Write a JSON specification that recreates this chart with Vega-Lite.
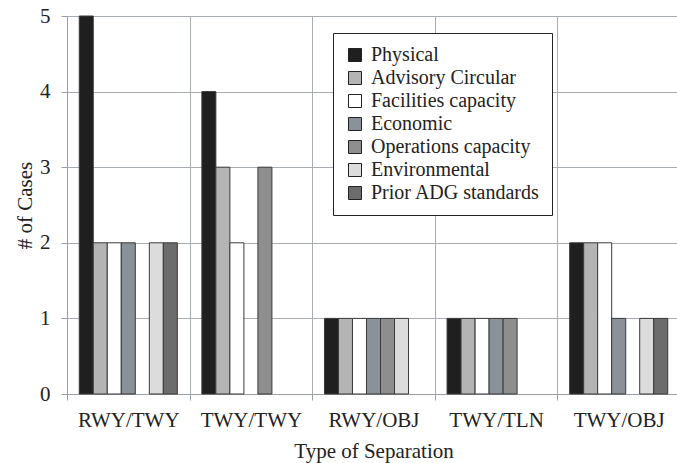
{
  "$schema": "https://vega.github.io/schema/vega-lite/v6.json",
  "autosize": {"type": "none"},
  "padding": {"left": 67, "top": 16, "right": 0, "bottom": 69},
  "width": 613,
  "height": 378,
  "background": "white",
  "config": {
    "font": "Liberation Serif",
    "view": {"stroke": null},
    "axis": {"labelFont": "Liberation Serif", "titleFont": "Liberation Serif", "labelColor": "#222", "titleColor": "#222", "titleFontWeight": "normal", "labelFontSize": 21, "titleFontSize": 21, "domainColor": "#9a9ea6", "tickColor": "#9a9ea6", "gridColor": "#a9adb4"}
  },
  "data": {
    "values": [
      {"sep": "RWY/TWY", "reason": "Physical", "n": 5},
      {"sep": "RWY/TWY", "reason": "Advisory Circular", "n": 2},
      {"sep": "RWY/TWY", "reason": "Facilities capacity", "n": 2},
      {"sep": "RWY/TWY", "reason": "Economic", "n": 2},
      {"sep": "RWY/TWY", "reason": "Operations capacity", "n": 0},
      {"sep": "RWY/TWY", "reason": "Environmental", "n": 2},
      {"sep": "RWY/TWY", "reason": "Prior ADG standards", "n": 2},
      {"sep": "TWY/TWY", "reason": "Physical", "n": 4},
      {"sep": "TWY/TWY", "reason": "Advisory Circular", "n": 3},
      {"sep": "TWY/TWY", "reason": "Facilities capacity", "n": 2},
      {"sep": "TWY/TWY", "reason": "Economic", "n": 0},
      {"sep": "TWY/TWY", "reason": "Operations capacity", "n": 3},
      {"sep": "TWY/TWY", "reason": "Environmental", "n": 0},
      {"sep": "TWY/TWY", "reason": "Prior ADG standards", "n": 0},
      {"sep": "RWY/OBJ", "reason": "Physical", "n": 1},
      {"sep": "RWY/OBJ", "reason": "Advisory Circular", "n": 1},
      {"sep": "RWY/OBJ", "reason": "Facilities capacity", "n": 1},
      {"sep": "RWY/OBJ", "reason": "Economic", "n": 1},
      {"sep": "RWY/OBJ", "reason": "Operations capacity", "n": 1},
      {"sep": "RWY/OBJ", "reason": "Environmental", "n": 1},
      {"sep": "RWY/OBJ", "reason": "Prior ADG standards", "n": 0},
      {"sep": "TWY/TLN", "reason": "Physical", "n": 1},
      {"sep": "TWY/TLN", "reason": "Advisory Circular", "n": 1},
      {"sep": "TWY/TLN", "reason": "Facilities capacity", "n": 1},
      {"sep": "TWY/TLN", "reason": "Economic", "n": 1},
      {"sep": "TWY/TLN", "reason": "Operations capacity", "n": 1},
      {"sep": "TWY/TLN", "reason": "Environmental", "n": 0},
      {"sep": "TWY/TLN", "reason": "Prior ADG standards", "n": 0},
      {"sep": "TWY/OBJ", "reason": "Physical", "n": 2},
      {"sep": "TWY/OBJ", "reason": "Advisory Circular", "n": 2},
      {"sep": "TWY/OBJ", "reason": "Facilities capacity", "n": 2},
      {"sep": "TWY/OBJ", "reason": "Economic", "n": 1},
      {"sep": "TWY/OBJ", "reason": "Operations capacity", "n": 0},
      {"sep": "TWY/OBJ", "reason": "Environmental", "n": 1},
      {"sep": "TWY/OBJ", "reason": "Prior ADG standards", "n": 1}
    ]
  },
  "transform": [{"filter": "datum.n > 0"}],
  "mark": {"type": "bar", "stroke": "#3a3a3a", "strokeWidth": 1, "opacity": 1},
  "encoding": {
    "x": {
      "field": "sep", "type": "nominal", "sort": null,
      "scale": {"domain": ["RWY/TWY", "TWY/TWY", "RWY/OBJ", "TWY/TLN", "TWY/OBJ"], "paddingInner": 0, "paddingOuter": 0},
      "axis": {"title": "Type of Separation", "labelAngle": 0, "tickBand": "extent", "grid": true, "tickSize": 6, "labelPadding": 9, "titlePadding": 10}
    },
    "xOffset": {
      "field": "reason", "type": "nominal", "sort": null,
      "scale": {"domain": ["Physical", "Advisory Circular", "Facilities capacity", "Economic", "Operations capacity", "Environmental", "Prior ADG standards"], "paddingInner": 0, "paddingOuter": 0.875}
    },
    "y": {
      "field": "n", "type": "quantitative",
      "scale": {"domain": [0, 5], "nice": false},
      "axis": {"title": "# of Cases", "values": [0, 1, 2, 3, 4, 5], "tickSize": 6, "labelPadding": 11, "titlePadding": 4, "grid": true}
    },
    "color": {
      "field": "reason", "type": "nominal", "sort": null,
      "scale": {
        "domain": ["Physical", "Advisory Circular", "Facilities capacity", "Economic", "Operations capacity", "Environmental", "Prior ADG standards"],
        "range": ["#1f1f1f", "#b4b4b4", "#ffffff", "#8a9199", "#8e8e8e", "#dcdcdc", "#6c6c6c"]
      },
      "legend": {
        "title": null, "orient": "none", "legendX": 266, "legendY": 17,
        "symbolType": "square", "symbolSize": 169, "symbolStrokeColor": "#222", "symbolStrokeWidth": 1, "symbolOpacity": 1,
        "labelFont": "Liberation Serif", "labelFontSize": 20, "labelColor": "#222", "labelOffset": 6, "labelLimit": 300,
        "rowPadding": 3, "padding": 12, "strokeColor": "#222", "fillColor": "white"
      }
    }
  }
}
